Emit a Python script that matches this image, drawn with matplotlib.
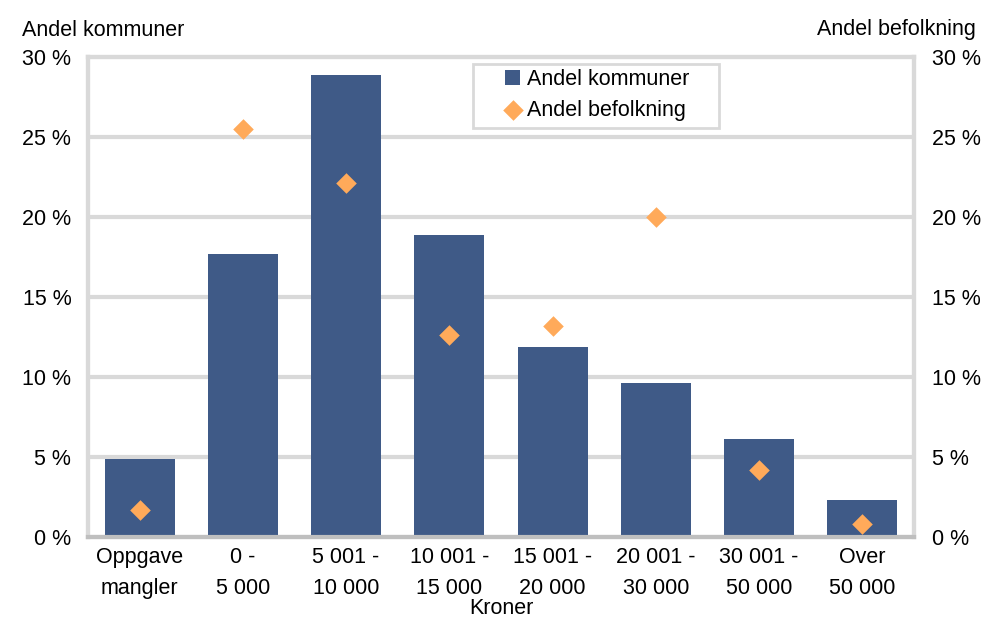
import matplotlib
matplotlib.use("Agg")
import matplotlib.pyplot as plt
from matplotlib.patches import Rectangle
import numpy as np

plt.rcParams['font.family'] = ['Liberation Sans', 'DejaVu Sans']

categories = ["Oppgave\nmangler", "0 -\n5 000", "5 001 -\n10 000", "10 001 -\n15 000",
              "15 001 -\n20 000", "20 001 -\n30 000", "30 001 -\n50 000", "Over\n50 000"]
andel_kommuner = [4.9, 17.7, 28.9, 18.9, 11.9, 9.6, 6.1, 2.3]
andel_befolkning = [1.7, 25.5, 22.1, 12.6, 13.2, 20.0, 4.2, 0.8]
yticks = [0, 5, 10, 15, 20, 25, 30]
ytick_labels = ["0 %", "5 %", "10 %", "15 %", "20 %", "25 %", "30 %"]

bar_color = "#3f5a87"
dia_color = "#ffaa5a"
grid_color = "#d9d9d9"
FS = 15.5
W, H = 982, 619

fig = plt.figure(figsize=(9.82, 6.19), dpi=100)
ax = fig.add_axes([88/W, 1-537/H, (914-88)/W, (537-57)/H])
x = np.arange(len(categories))
ax.bar(x, andel_kommuner, width=0.68, color=bar_color, zorder=3, label="Andel kommuner")
ax2 = ax.twinx()
ax2.scatter(x, andel_befolkning, marker="D", s=110, color=dia_color, zorder=4,
            label="Andel befolkning", linewidths=0)

for a in (ax, ax2):
    a.set_ylim(0, 30)
    a.set_yticks(yticks)
    a.tick_params(length=0, labelsize=FS)
ax.set_xlim(-0.5, len(categories) - 0.5)
ax.set_yticklabels(ytick_labels)
ax2.set_yticklabels(ytick_labels)
ax.tick_params(axis='y', pad=12)
ax2.tick_params(axis='y', pad=13)
ax.set_xticks(x)
ax.set_xticklabels(categories, fontsize=FS, linespacing=1.65)
ax.tick_params(axis='x', pad=7)
for yv in yticks[1:-1]:
    ax.axhline(yv, color=grid_color, lw=3, zorder=1)

for a in (ax, ax2):
    for s in ("left", "right", "top"):
        a.spines[s].set_color(grid_color)
        a.spines[s].set_linewidth(3)
    a.spines["bottom"].set_color("#bfbfbf")
    a.spines["bottom"].set_linewidth(3)

fig.text(22/W, 1-30/H, "Andel kommuner", fontsize=FS, va="center", ha="left")
fig.text(976/W, 1-30/H, "Andel befolkning", fontsize=FS, va="center", ha="right")
fig.text(501/W, 1-609/H, "Kroner", fontsize=FS, va="center", ha="center")

# legend frame
frame = Rectangle((473/W, 1-128/H), (719-473)/W, (128-64)/H, transform=fig.transFigure,
                  facecolor="white", edgecolor=grid_color, lw=2, zorder=5)
fig.patches.append(frame)

h1, l1 = ax.get_legend_handles_labels()
h2, l2 = ax2.get_legend_handles_labels()
leg = fig.legend(h1 + h2, l1 + l2, loc="upper left", bbox_to_anchor=(501/W, 1-65/H),
                 fontsize=FS, frameon=False, handlelength=0.7, handletextpad=0.3,
                 borderpad=0.2, labelspacing=0.45, borderaxespad=0)
leg.set_zorder(6)

fig.savefig("out.png", dpi=100)
